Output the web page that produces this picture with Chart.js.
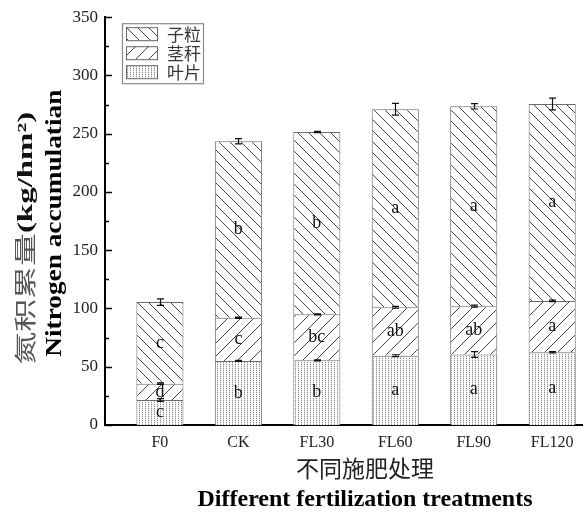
<!DOCTYPE html>
<html>
<head>
<meta charset="utf-8">
<script src="https://cdn.jsdelivr.net/npm/chart.js@4.4.0/dist/chart.umd.min.js"></script>
<style>
  html, body { margin: 0; padding: 0; background: #fff; overflow: hidden; }
  #wrap { width: 583px; height: 512px; }
</style>
</head>
<body>
<div id="wrap"><canvas id="c" width="583" height="512"></canvas></div>
<script>
// Treatments along the x axis
const treatments = ['F0', 'CK', 'FL30', 'FL60', 'FL90', 'FL120'];
// Plant organs, stacked bottom to top
const organs = ['叶片', '茎秆', '子粒'];

// Nitrogen accumulation (kg/hm²) per organ
const leaf  = [21.5, 55, 55.5, 59.5, 60.5, 62.5];
const stem  = [14, 37, 39.5, 41.5, 41.5, 44];
const grain = [70, 151.5, 156.5, 170, 171.5, 169];

// Standard errors
const leafErr  = [1.2, 0.4, 0.4, 0.8, 2.5, 0.6];
const stemErr  = [0.6, 0.5, 0.5, 0.8, 0.8, 0.6];
const grainErr = [2.8, 2.2, 0.5, 5, 2.3, 5];

// Significance letters
const leafSig  = ['c', 'b', 'b', 'a', 'a', 'a'];
const stemSig  = ['d', 'c', 'bc', 'ab', 'ab', 'a'];
const grainSig = ['c', 'b', 'b', 'a', 'a', 'a'];

// Y axis range and tick step
const yMax = 350;
const yStep = 25;
const yLabelStep = 50;

const canvas = document.getElementById('c');
const ctx = canvas.getContext('2d');

// ---- fill patterns ----
function hatch(step, dir) {
  const t = document.createElement('canvas');
  t.width = step; t.height = step;
  const g = t.getContext('2d');
  g.fillStyle = '#fff';
  g.fillRect(0, 0, step, step);
  g.strokeStyle = '#444';
  g.lineWidth = 1;
  g.beginPath();
  if (dir === '/') {
    g.moveTo(-1, step + 1); g.lineTo(step + 1, -1);
    g.moveTo(-1, 1); g.lineTo(1, -1);
    g.moveTo(step - 1, step + 1); g.lineTo(step + 1, step - 1);
  } else {
    g.moveTo(-1, -1); g.lineTo(step + 1, step + 1);
    g.moveTo(step - 1, -1); g.lineTo(step + 1, 1);
    g.moveTo(-1, step - 1); g.lineTo(1, step + 1);
  }
  g.stroke();
  return ctx.createPattern(t, 'repeat');
}
function stipple() {
  const t = document.createElement('canvas');
  t.width = 3; t.height = 2;
  const g = t.getContext('2d');
  g.fillStyle = '#fff';
  g.fillRect(0, 0, 3, 2);
  g.fillStyle = '#8c8c8c';
  g.fillRect(1, 0, 1, 1);
  g.fillStyle = '#e2e2e2';
  g.fillRect(1, 1, 1, 1);
  return ctx.createPattern(t, 'repeat');
}
const fills = [stipple(), hatch(13, '/'), hatch(11, '\\')];

const values = [leaf, stem, grain];
const errors = [leafErr, stemErr, grainErr];
const sigs = [leafSig, stemSig, grainSig];

const datasets = organs.map((name, k) => ({
  label: name,
  data: values[k].map((v, i) => ({ x: i + 1, y: v })),
  backgroundColor: fills[k],
  borderColor: '#6a6a6a',
  borderWidth: 1
}));

const serif = '"Liberation Serif", "Times New Roman", serif';
const cjk = '"Noto Sans CJK SC", sans-serif';

// Inward tick marks on the y axis
const yTickMarks = {
  id: 'yTickMarks',
  afterDraw(chart) {
    const y = chart.scales.y;
    const c = chart.ctx;
    c.save();
    c.strokeStyle = '#000';
    c.lineWidth = 1.5;
    for (let v = 0; v <= yMax; v += yStep) {
      const py = Math.round(y.getPixelForValue(v)) + 0.5;
      const len = v % yLabelStep === 0 ? 7 : 4;
      c.beginPath();
      c.moveTo(y.right, py);
      c.lineTo(y.right + len, py);
      c.stroke();
    }
    c.restore();
  }
};

// Error bars at each segment top and letters inside each segment
const barExtras = {
  id: 'barExtras',
  afterDatasetsDraw(chart) {
    const c = chart.ctx;
    const y = chart.scales.y;
    c.save();
    const cum = treatments.map(() => 0);
    values.forEach((arr, k) => {
      const meta = chart.getDatasetMeta(k);
      meta.data.forEach((el, i) => {
        const bottom = cum[i];
        const top = bottom + arr[i];
        cum[i] = top;
        // letter
        c.fillStyle = '#111';
        c.font = '18px ' + serif;
        c.textAlign = 'center';
        c.textBaseline = 'middle';
        const my = (y.getPixelForValue(bottom) + y.getPixelForValue(top)) / 2;
        c.fillText(sigs[k][i], el.x, my);
        // error bar
        const e = errors[k][i];
        const y1 = y.getPixelForValue(top + e);
        const y2 = y.getPixelForValue(top - e);
        const x = Math.round(el.x) + 0.5;
        c.strokeStyle = '#111';
        c.lineWidth = 1.2;
        c.beginPath();
        c.moveTo(x, y1); c.lineTo(x, y2);
        c.moveTo(x - 3.5, y1); c.lineTo(x + 3.5, y1);
        c.moveTo(x - 3.5, y2); c.lineTo(x + 3.5, y2);
        c.stroke();
      });
    });
    c.restore();
  }
};

// Legend box in the upper-left corner of the plot
const legendBox = {
  id: 'legendBox',
  afterDraw(chart) {
    const c = chart.ctx;
    const a = chart.chartArea;
    const bx = a.left + 17, by = a.top + 6, bw = 81, bh = 60;
    c.save();
    c.fillStyle = '#fff';
    c.fillRect(bx, by, bw, bh);
    c.strokeStyle = '#8a8a8a';
    c.lineWidth = 1.2;
    c.strokeRect(bx + 0.5, by + 0.5, bw, bh);
    const order = [2, 1, 0];
    order.forEach((k, r) => {
      const sy = by + 4 + r * 19;
      c.fillStyle = fills[k];
      c.fillRect(bx + 4, sy, 31, 13);
      c.strokeStyle = '#666';
      c.lineWidth = 1;
      c.strokeRect(bx + 4.5, sy + 0.5, 31, 13);
      c.fillStyle = '#333';
      c.font = '17px ' + cjk;
      c.textAlign = 'left';
      c.textBaseline = 'middle';
      c.fillText(organs[k], bx + 45, sy + 7);
    });
    c.restore();
  }
};

// Axis titles (Chinese and English)
const axisTitles = {
  id: 'axisTitles',
  afterDraw(chart) {
    const c = chart.ctx;
    const a = chart.chartArea;
    c.save();
    // x titles
    const cx = a.left + 260;
    c.textAlign = 'center';
    c.textBaseline = 'middle';
    c.fillStyle = '#222';
    c.font = '23px ' + cjk;
    c.fillText('不同施肥处理', cx, a.bottom + 43);
    c.fillStyle = '#000';
    c.font = 'bold 24px ' + serif;
    c.fillText('Different fertilization treatments', cx, a.bottom + 75);

    // y title, Chinese line
    const zh = '氮积累量';
    const unit = '(kg/hm²)';
    c.font = '22px ' + cjk;
    const wZh = c.measureText(zh).width;
    c.font = 'bold 22px ' + serif;
    const wUnit = c.measureText(unit).width;
    const total = wZh + wUnit;
    const s1 = 253 / total;
    c.save();
    c.translate(25, a.top + 221);
    c.rotate(-Math.PI / 2);
    c.scale(s1, 1);
    c.textAlign = 'left';
    c.textBaseline = 'middle';
    c.fillStyle = '#555';
    c.font = '22px ' + cjk;
    c.fillText(zh, -total / 2, 0);
    c.fillStyle = '#111';
    c.font = 'bold 22px ' + serif;
    c.fillText(unit, -total / 2 + wZh, 1);
    c.restore();

    // y title, English line
    const en = 'Nitrogen accumulatian';
    c.font = 'bold 24px ' + serif;
    const wEn = c.measureText(en).width;
    c.save();
    c.translate(55, a.top + 206);
    c.rotate(-Math.PI / 2);
    c.scale(267 / wEn, 1);
    c.textAlign = 'center';
    c.textBaseline = 'middle';
    c.fillStyle = '#000';
    c.fillText(en, 0, 0);
    c.restore();
    c.restore();
  }
};

new Chart(ctx, {
  type: 'bar',
  data: { datasets },
  options: {
    responsive: false,
    animation: false,
    layout: { padding: { top: 17, right: 1, left: 0, bottom: 0 } },
    datasets: { bar: { barPercentage: 1, categoryPercentage: 0.6 } },
    plugins: { legend: { display: false }, tooltip: { enabled: false } },
    scales: {
      x: {
        type: 'linear',
        min: 0.3,
        max: 6.38,
        offset: false,
        stacked: true,
        grid: { display: false, offset: false, drawTicks: false },
        border: { display: true, color: '#000', width: 2 },
        afterBuildTicks: s => { s.ticks = treatments.map((_, i) => ({ value: i + 1 })); },
        ticks: {
          callback: v => treatments[v - 1] ?? '',
          autoSkip: false,
          maxRotation: 0,
          padding: 8,
          color: '#222',
          font: { family: serif, size: 16 }
        },
        afterFit: s => { s.height = 87; }
      },
      y: {
        min: 0,
        max: yMax,
        stacked: true,
        grid: { display: false, drawTicks: false },
        border: { display: true, color: '#000', width: 2 },
        ticks: {
          stepSize: yStep,
          callback: v => (v % yLabelStep === 0 ? v : ''),
          padding: 7,
          color: '#222',
          font: { family: serif, size: 17 }
        },
        afterFit: s => { s.width = 105; }
      }
    }
  },
  plugins: [barExtras, yTickMarks, legendBox, axisTitles]
});
</script>
</body>
</html>
